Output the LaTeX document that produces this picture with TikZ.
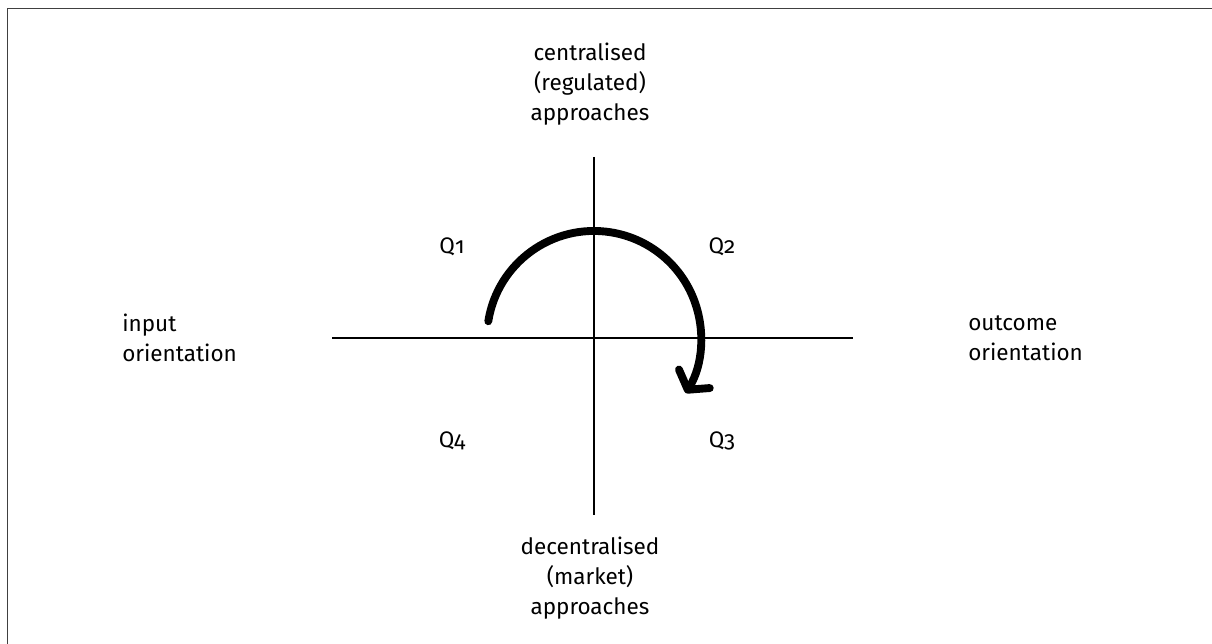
\documentclass[tikz,border=0pt]{standalone}
\usepackage{fontspec}
\setmainfont[Numbers=OldStyle]{Fira Sans}
\usetikzlibrary{arrows.meta, positioning, calc}

\begin{document}
\begin{tikzpicture}[
    x=0.025cm, y=0.025cm,
    lbl/.style={font=\fontsize{16}{21.5}\selectfont, align=#1, inner sep=0pt},
    lbl/.default=center,
    quad/.style={font=\fontsize{16}{21.5}\selectfont, inner sep=0pt},
    axis/.style={line width=0.75pt, black},
    frame/.style={line width=1.1pt, black!75},
    turn/.style={line width=5.6pt, line cap=round, -{Straight Barb[length=0.32cm, width=0.9cm, round]}}
]
\useasboundingbox (0,0) rectangle (1212,644);

% --- Frame (top and left edge only) ---
\draw[frame] (7.5,0) -- (7.5,635.5) -- (1212,635.5);

% --- Axes ---
\coordinate (top)    at (594,487);
\coordinate (bottom) at (594,129);
\coordinate (left)   at (332,306);
\coordinate (right)  at (853,306);
\draw[axis] (top) -- (bottom);
\draw[axis] (left) -- (right);

% --- Axis labels ---
\node[lbl] (central)   at (590,560) {centralised\\(regulated)\\approaches};
\node[lbl] (decentral) at (590,66)  {decentralised\\(market)\\approaches};
\node[lbl=left, anchor=west] (input)   at (122,306) {input\\orientation};
\node[lbl=left, anchor=west] (outcome) at (968,306) {outcome\\orientation};

% --- Quadrants ---
\node[quad] (q1) at (452,397) {Q1};
\node[quad] (q2) at (722,397) {Q2};
\node[quad] (q3) at (722,203) {Q3};
\node[quad] (q4) at (452,203) {Q4};

% --- Rotation arrow ---
\coordinate (start) at ($(594,306)+(171:2.675cm)$);
\draw[turn] (start) arc[start angle=171, end angle=-31, radius=2.675cm];

\end{tikzpicture}
\end{document}
